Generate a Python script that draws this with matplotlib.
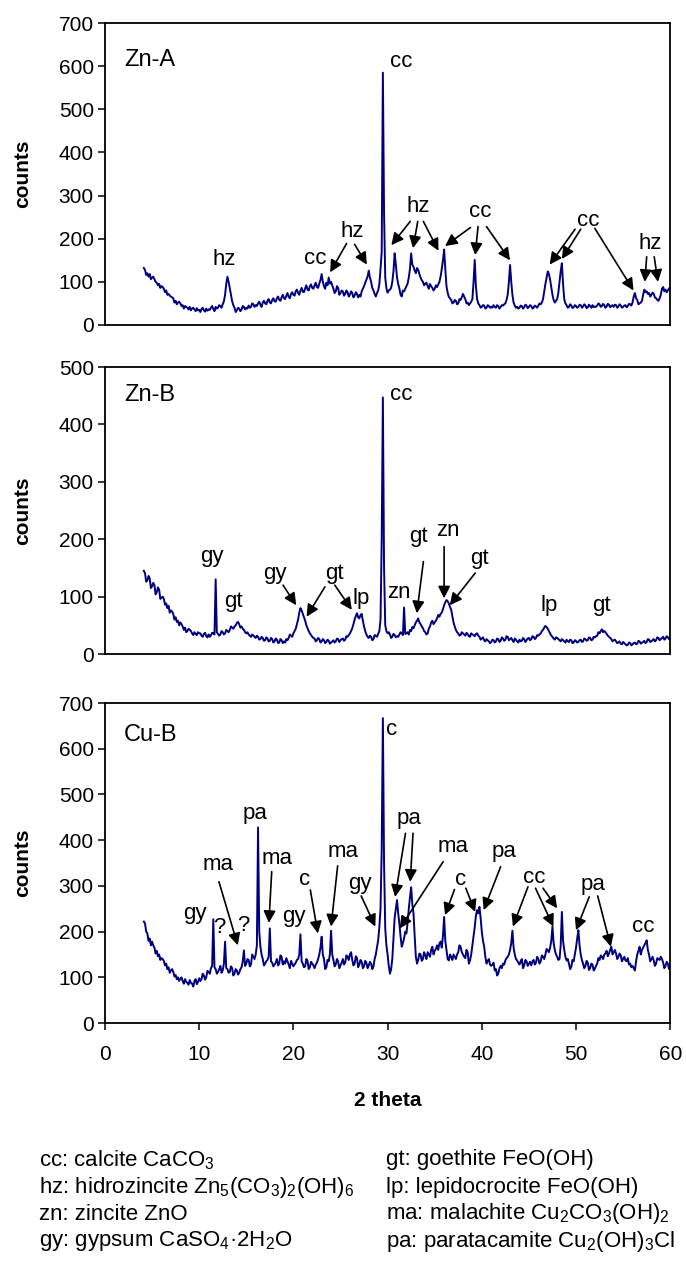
import matplotlib
matplotlib.use('Agg')
import matplotlib.pyplot as plt
import numpy as np

plt.rcParams['font.family'] = ['Liberation Sans', 'DejaVu Sans']
plt.rcParams['mathtext.fontset'] = 'custom'
plt.rcParams['mathtext.rm'] = 'Liberation Sans'
plt.rcParams['mathtext.it'] = 'Liberation Sans:italic'
plt.rcParams['mathtext.bf'] = 'Liberation Sans:bold'
plt.rcParams['mathtext.default'] = 'rm'

# 2-theta sampling of the scans, degrees
two_theta = np.arange(4.125, 60.001, 0.125)

# counts, one row per degree (d+0.125 ... d+1)
zn_a_counts = [
    132, 128, 116, 120, 112, 118, 106, 110,
    112, 106, 100, 98, 92, 95, 86, 90,
    88, 84, 76, 80, 70, 72, 68, 66,
    64, 62, 52, 56, 48, 52, 54, 50,
    44, 46, 38, 44, 42, 40, 36, 42,
    34, 38, 40, 36, 32, 39, 34, 35,
    30, 37, 40, 34, 31, 38, 33, 36,
    35, 40, 44, 37, 32, 42, 38, 40,
    46, 44, 40, 48, 55, 70, 95, 112,
    100, 85, 70, 55, 46, 40, 30, 34,
    40, 38, 32, 36, 44, 42, 36, 40,
    38, 45, 40, 42, 50, 48, 42, 46,
    44, 50, 54, 47, 42, 52, 56, 50,
    48, 56, 60, 52, 50, 58, 62, 55,
    54, 62, 66, 58, 56, 64, 70, 62,
    60, 68, 74, 65, 62, 72, 76, 70,
    68, 78, 82, 74, 70, 80, 86, 77,
    76, 85, 92, 82, 80, 90, 94, 86,
    84, 92, 98, 88, 86, 96, 104, 118,
    100, 90, 84, 98, 92, 110, 96, 100,
    92, 84, 74, 78, 90, 86, 70, 74,
    80, 78, 68, 72, 80, 76, 66, 70,
    78, 74, 64, 68, 76, 72, 64, 70,
    66, 78, 84, 90, 98, 105, 112, 126,
    110, 100, 86, 80, 72, 66, 74, 80,
    95, 130, 170, 585, 260, 110, 85, 75,
    80, 82, 86, 100, 125, 166, 140, 110,
    95, 85, 70, 66, 80, 78, 84, 90,
    96, 110, 130, 166, 140, 135, 126, 120,
    132, 128, 118, 110, 104, 100, 92, 96,
    98, 90, 84, 95, 90, 86, 80, 84,
    92, 88, 94, 100, 112, 130, 150, 175,
    130, 90, 75, 65, 62, 58, 50, 52,
    58, 56, 48, 50, 60, 58, 64, 72,
    66, 60, 50, 52, 46, 50, 54, 60,
    100, 151, 90, 60, 50, 46, 40, 42,
    46, 45, 38, 40, 46, 44, 40, 42,
    40, 46, 42, 40, 46, 44, 38, 42,
    46, 45, 48, 50, 58, 70, 100, 139,
    100, 70, 52, 45, 40, 42, 38, 40,
    45, 44, 38, 41, 47, 45, 39, 42,
    46, 44, 38, 40, 45, 43, 40, 45,
    50, 48, 52, 60, 78, 95, 110, 124,
    118, 105, 88, 70, 58, 52, 56, 60,
    75, 100, 125, 143, 95, 60, 50, 46,
    40, 42, 48, 45, 39, 41, 46, 44,
    40, 42, 47, 46, 40, 43, 48, 45,
    39, 41, 47, 44, 40, 46, 41, 43,
    42, 45, 50, 48, 42, 44, 49, 46,
    40, 43, 49, 47, 41, 44, 46, 42,
    47, 46, 40, 43, 48, 45, 40, 42,
    45, 46, 41, 44, 49, 48, 45, 52,
    66, 74, 62, 58, 48, 50, 52, 56,
    70, 82, 76, 78, 72, 74, 66, 70,
    75, 72, 64, 62, 58, 56, 62, 70,
    84, 88, 78, 82, 76, 80, 85, 82,
]

zn_b_counts = [
    145, 141, 126, 128, 136, 132, 115, 118,
    124, 120, 104, 108, 116, 112, 96, 98,
    100, 96, 86, 88, 80, 84, 72, 76,
    74, 70, 60, 64, 56, 58, 50, 55,
    52, 48, 42, 46, 38, 40, 44, 42,
    40, 36, 33, 38, 35, 33, 38, 36,
    36, 32, 30, 35, 37, 31, 29, 34,
    30, 33, 37, 36, 34, 130, 38, 35,
    32, 34, 40, 38, 34, 36, 42, 40,
    38, 42, 48, 46, 44, 48, 50, 54,
    56, 52, 46, 48, 44, 42, 38, 36,
    38, 34, 32, 30, 34, 32, 30, 28,
    32, 30, 25, 26, 30, 28, 23, 24,
    29, 27, 22, 23, 28, 26, 20, 22,
    27, 25, 19, 20, 26, 24, 19, 22,
    20, 26, 24, 28, 34, 32, 30, 36,
    40, 44, 52, 60, 72, 80, 76, 70,
    64, 58, 50, 45, 40, 36, 33, 30,
    28, 27, 22, 24, 28, 26, 20, 22,
    26, 24, 19, 21, 25, 23, 18, 20,
    22, 24, 20, 22, 27, 26, 21, 24,
    26, 27, 23, 25, 31, 30, 33, 36,
    40, 45, 52, 60, 66, 71, 64, 62,
    68, 70, 58, 48, 40, 34, 30, 28,
    32, 30, 24, 26, 33, 32, 30, 35,
    40, 60, 200, 447, 150, 50, 40, 36,
    38, 34, 28, 30, 35, 33, 29, 31,
    30, 34, 38, 36, 33, 81, 35, 36,
    38, 34, 42, 40, 47, 45, 50, 55,
    58, 62, 55, 52, 48, 45, 40, 38,
    34, 36, 44, 48, 55, 58, 52, 55,
    58, 62, 68, 65, 70, 72, 78, 85,
    90, 94, 92, 88, 82, 77, 66, 55,
    48, 42, 38, 36, 32, 33, 38, 36,
    34, 32, 37, 35, 31, 30, 36, 34,
    33, 31, 35, 36, 32, 30, 25, 27,
    29, 24, 22, 26, 24, 22, 19, 21,
    25, 24, 20, 22, 27, 26, 21, 23,
    29, 27, 23, 25, 31, 30, 24, 26,
    28, 24, 21, 27, 25, 22, 20, 25,
    22, 23, 28, 26, 21, 24, 27, 28,
    24, 26, 31, 30, 26, 28, 33, 32,
    34, 36, 40, 42, 46, 49, 47, 44,
    40, 36, 32, 30, 27, 25, 29, 28,
    26, 24, 22, 26, 24, 22, 20, 25,
    22, 21, 25, 24, 19, 20, 24, 23,
    20, 21, 24, 25, 21, 22, 27, 26,
    23, 24, 29, 28, 24, 25, 30, 29,
    31, 32, 38, 36, 40, 43, 38, 40,
    38, 35, 32, 30, 28, 26, 22, 24,
    25, 22, 19, 20, 22, 18, 17, 21,
    19, 17, 15, 16, 20, 19, 15, 17,
    19, 20, 17, 18, 23, 22, 18, 20,
    21, 23, 19, 21, 26, 25, 21, 22,
    24, 26, 22, 24, 29, 28, 24, 26,
    28, 30, 25, 27, 31, 29, 26, 30,
]

cu_b_counts = [
    222, 218, 200, 196, 180, 185, 170, 178,
    170, 165, 152, 158, 146, 150, 138, 142,
    140, 136, 126, 130, 118, 122, 110, 115,
    118, 112, 102, 105, 96, 100, 92, 97,
    100, 92, 86, 96, 90, 88, 84, 94,
    88, 86, 80, 92, 96, 85, 90, 98,
    92, 96, 108, 104, 95, 100, 114, 112,
    108, 120, 125, 227, 122, 118, 108, 112,
    118, 125, 110, 115, 130, 178, 120, 118,
    110, 112, 124, 120, 104, 108, 118, 115,
    106, 110, 118, 122, 135, 159, 125, 130,
    140, 138, 124, 128, 150, 145, 140, 150,
    170, 428, 200, 167, 150, 140, 126, 130,
    135, 138, 145, 207, 135, 132, 124, 128,
    132, 140, 126, 130, 148, 145, 128, 135,
    130, 142, 135, 128, 120, 136, 130, 124,
    128, 132, 138, 140, 150, 194, 135, 130,
    122, 124, 140, 136, 118, 122, 134, 130,
    126, 120, 128, 132, 140, 150, 165, 189,
    150, 140, 118, 122, 138, 135, 150, 202,
    150, 138, 124, 128, 140, 135, 120, 126,
    132, 140, 128, 132, 148, 145, 138, 150,
    155, 138, 126, 130, 146, 142, 122, 128,
    138, 134, 120, 124, 136, 132, 120, 126,
    134, 130, 118, 124, 140, 150, 165, 181,
    210, 250, 380, 667, 350, 207, 170, 150,
    125, 108, 118, 140, 185, 230, 250, 269,
    240, 218, 190, 167, 175, 185, 200, 196,
    220, 250, 275, 297, 260, 240, 190, 145,
    130, 138, 152, 150, 136, 140, 155, 148,
    140, 155, 150, 145, 160, 167, 150, 158,
    162, 170, 160, 174, 178, 165, 190, 232,
    180, 160, 140, 137, 150, 145, 138, 150,
    145, 140, 150, 155, 170, 167, 155, 150,
    145, 142, 160, 155, 130, 137, 150, 170,
    190, 210, 235, 247, 240, 254, 230, 200,
    180, 167, 145, 130, 136, 140, 128, 125,
    128, 132, 115, 118, 104, 108, 120, 125,
    120, 130, 128, 137, 142, 145, 150, 160,
    175, 202, 165, 150, 140, 137, 132, 128,
    135, 140, 120, 126, 138, 135, 125, 130,
    134, 126, 135, 138, 128, 132, 145, 140,
    130, 135, 148, 145, 140, 150, 162, 159,
    155, 165, 180, 211, 175, 160, 150, 145,
    138, 140, 170, 243, 180, 160, 145, 137,
    140, 130, 118, 123, 138, 135, 150, 165,
    185, 203, 170, 150, 138, 130, 120, 125,
    136, 132, 116, 120, 130, 128, 115, 119,
    125, 130, 142, 138, 148, 145, 140, 150,
    152, 158, 146, 152, 160, 167, 150, 155,
    160, 152, 140, 145, 152, 148, 135, 140,
    145, 137, 135, 142, 128, 130, 122, 125,
    120, 115, 135, 150, 158, 167, 150, 160,
    165, 170, 175, 181, 160, 150, 135, 140,
    145, 137, 125, 130, 142, 140, 138, 145,
    140, 132, 120, 125, 134, 130, 118, 123,
]

sample_names = ['Zn-A', 'Zn-B', 'Cu-B']
y_limits = [700, 500, 700]
name_heights = [614, 451, 630]

# phase labels: (text, 2theta, counts)
zn_a_labels = [('hz', 12.7, 151), ('cc', 22.3, 155), ('hz', 26.2, 216), ('cc', 31.5, 610),
               ('hz', 33.3, 274), ('cc', 39.8, 263), ('cc', 51.3, 243), ('hz', 57.9, 189)]
zn_b_labels = [('gy', 11.3, 170), ('gt', 13.6, 91), ('gy', 18.0, 141), ('gt', 24.4, 141),
               ('lp', 27.2, 97), ('cc', 31.5, 452), ('zn', 31.2, 108), ('gt', 33.3, 204),
               ('zn', 36.45, 216), ('gt', 39.8, 167), ('lp', 47.1, 85), ('gt', 52.7, 85)]
cu_b_labels = [('gy', 9.5, 240), ('?', 12.1, 210), ('?', 14.7, 214), ('ma', 12.0, 346),
               ('pa', 15.95, 459), ('ma', 18.3, 360), ('gy', 20.1, 232), ('c', 21.2, 314),
               ('ma', 25.3, 375), ('gy', 27.1, 306), ('c', 30.4, 642), ('pa', 32.3, 448),
               ('ma', 36.9, 386), ('c', 37.7, 314), ('pa', 42.4, 375), ('cc', 45.6, 318),
               ('pa', 51.8, 304), ('cc', 57.1, 212)]

# arrows: (tail 2theta, tail counts, head 2theta, head counts)
zn_a_arrows = [(25.65, 189, 23.9, 122), (26.5, 187, 27.8, 140),
               (32.4, 240, 30.4, 185), (33.2, 240, 32.7, 178), (33.8, 240, 35.4, 172),
               (38.8, 226, 36.1, 183), (39.6, 228, 39.3, 162), (40.5, 228, 43.0, 150),
               (49.9, 222, 47.2, 140), (50.5, 222, 48.5, 153), (52.0, 224, 56.1, 80),
               (57.5, 158, 57.3, 100), (58.3, 158, 58.7, 100)]
zn_b_arrows = [(18.9, 120, 20.3, 85), (23.35, 117, 21.4, 65), (24.4, 120, 26.2, 77),
               (33.8, 161, 33.1, 71), (36.0, 187, 36.0, 97), (39.3, 141, 36.6, 85)]
cu_b_arrows = [(12.1, 309, 14.1, 170), (17.7, 331, 17.4, 219), (21.8, 291, 22.6, 196),
               (24.7, 344, 24.0, 211), (27.2, 278, 28.7, 211), (31.9, 415, 30.8, 276),
               (32.7, 415, 32.4, 309), (35.9, 353, 31.3, 207), (37.1, 292, 36.1, 236),
               (38.3, 295, 39.3, 243), (42.0, 342, 40.2, 247), (44.9, 298, 43.3, 211),
               (45.7, 295, 47.6, 211), (46.5, 295, 48.0, 251), (51.4, 276, 50.0, 203),
               (52.3, 278, 53.7, 167)]

legend_left = [r'cc: calcite CaCO$_3$',
               r'hz: hidrozincite Zn$_5$(CO$_3$)$_2$(OH)$_6$',
               r'zn: zincite ZnO',
               r'gy: gypsum CaSO$_4$·2H$_2$O']
legend_right = [r'gt: goethite FeO(OH)',
                r'lp: lepidocrocite FeO(OH)',
                r'ma: malachite Cu$_2$CO$_3$(OH)$_2$',
                r'pa: paratacamite Cu$_2$(OH)$_3$Cl']

series = [zn_a_counts, zn_b_counts, cu_b_counts]
labels = [zn_a_labels, zn_b_labels, cu_b_labels]
arrows = [zn_a_arrows, zn_b_arrows, cu_b_arrows]

fig = plt.figure(figsize=(6.86, 12.66), dpi=100)
boxes = [(0.153, 0.7433, 0.824, 0.2385),
         (0.153, 0.4834, 0.824, 0.2267),
         (0.153, 0.1919, 0.824, 0.2528)]

for i, box in enumerate(boxes):
    ax = fig.add_axes(box)
    ax.plot(two_theta, series[i], color='#00007f', lw=1.4)
    ax.set_xlim(0, 60)
    ax.set_ylim(0, y_limits[i])
    ax.set_yticks(np.arange(0, y_limits[i] + 1, 100))
    for s in ax.spines.values():
        s.set_linewidth(1.3)
    ax.tick_params(axis='y', direction='out', length=5, width=1.1, labelsize=15, pad=3)
    if i < 2:
        ax.tick_params(axis='x', bottom=False, labelbottom=False)
    else:
        ax.set_xticks(np.arange(0, 61, 10))
        ax.tick_params(axis='x', direction='out', length=5, width=1.1, labelsize=15, pad=11)
    ax.set_ylabel('counts', fontsize=15, fontweight='bold')
    ax.yaxis.set_label_coords(-0.129, 0.5)

    ax.text(2.0, name_heights[i], sample_names[i], fontsize=17, va='center', ha='left')
    for txt, x, y in labels[i]:
        ax.text(x, y, txt, fontsize=16, ha='center', va='center')
    for x0, y0, x1, y1 in arrows[i]:
        ax.annotate('', xy=(x1, y1), xytext=(x0, y0),
                    arrowprops=dict(arrowstyle='-|>', color='black', lw=1.2,
                                    mutation_scale=18, shrinkA=0, shrinkB=0))

fig.text(0.565, 1 - 1100 / 1266, '2 theta', ha='center', va='center',
         fontsize=15, fontweight='bold')

row_y = [1160, 1187, 1214, 1241]
for k in range(4):
    fig.text(0.057, 1 - row_y[k] / 1266, legend_left[k], fontsize=16, va='center')
    fig.text(0.562, 1 - row_y[k] / 1266, legend_right[k], fontsize=16, va='center')

fig.savefig('out.png', dpi=100)
